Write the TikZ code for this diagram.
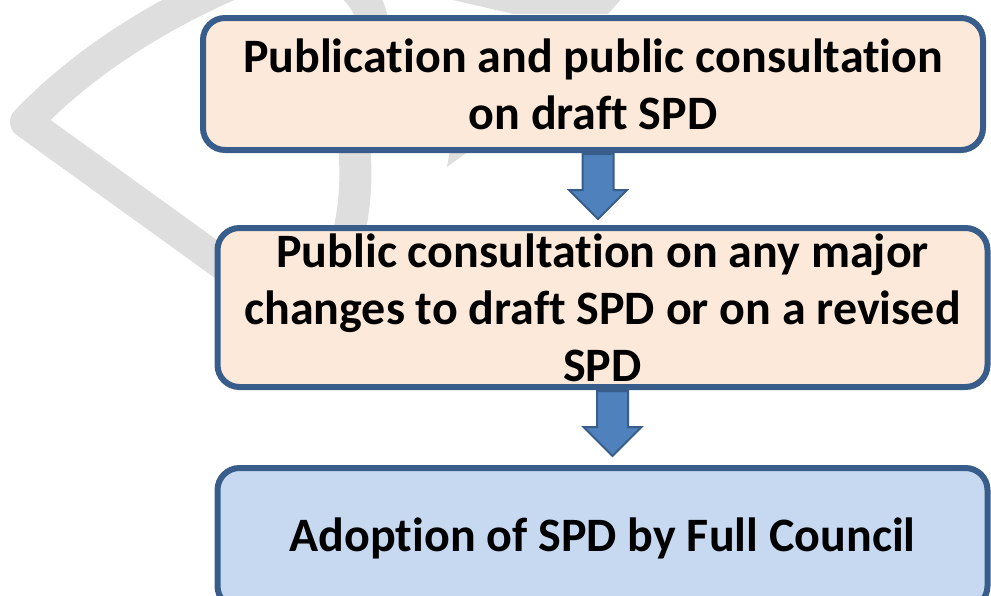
\documentclass[tikz,border=0pt]{standalone}
\usepackage{fontspec}
\setmainfont{Carlito}[Ligatures={NoCommon,NoContextual}]
\usetikzlibrary{shapes,arrows,calc,positioning,backgrounds}
\definecolor{peach}{RGB}{253,233,217}
\definecolor{paleblue}{RGB}{198,217,241}
\definecolor{edgeblue}{RGB}{56,93,138}
\definecolor{arrowblue}{RGB}{79,129,189}
\definecolor{markgray}{RGB}{222,222,222}

\begin{document}
\begin{tikzpicture}[x=0.5pt,y=-0.5pt,
          stage/.style={rectangle,draw=edgeblue,line width=3pt,rounded corners=11pt,inner sep=0pt,align=center,text width=385pt,font=\bfseries\fontsize{24}{28.5}\selectfont,execute at begin node={\spaceskip=0.226em\relax}},
          down/.style={single arrow,draw=edgeblue,fill=arrowblue,line width=1pt,rotate=-90,anchor=tail,inner xsep=0pt,inner ysep=7.25pt,minimum height=32.5pt,single arrow head extend=6.75pt,single arrow head indent=0pt},
          watermark/.style={draw=markgray,line width=16pt,line join=round}]

                \useasboundingbox (0,0) rectangle (991,595);

                \draw[watermark] (270,298) -- (26,122) .. controls (90,55) and (170,10) .. (240,-20)
                      .. controls (300,-45) and (350,-30) .. (368,7) .. controls (390,60) and (352,110) .. (355,160)
                      .. controls (358,210) and (345,290) .. (300,300) -- cycle;
                \fill[markgray] (440,-3) -- (513,14) -- (608,14) -- (623,-3) -- cycle;
                \fill[markgray] (450,150) -- (470,150) -- (447,167) -- cycle;

                \node[stage,fill=peach,minimum width=390pt,minimum height=66pt] (A) at (593,84)
                      {Publication and public consultation\\on draft SPD};
                \node[stage,fill=peach,minimum width=384.5pt,minimum height=79.5pt] (B) at (602.5,307.5)
                      {Public consultation on any major\\changes to draft SPD or on a revised\\SPD};
                \node[stage,fill=paleblue,minimum width=384.5pt,minimum height=70pt] (C) at (602.5,538)
                      {Adoption of SPD by Full Council};

                \begin{scope}[on background layer]
                \node[down] (AB) at ($(A.south)+(5,0)$) {};
                \node[down] (BC) at ($(B.south)+(10,0)$) {};
                \end{scope}
              \end{tikzpicture}
\end{document}
